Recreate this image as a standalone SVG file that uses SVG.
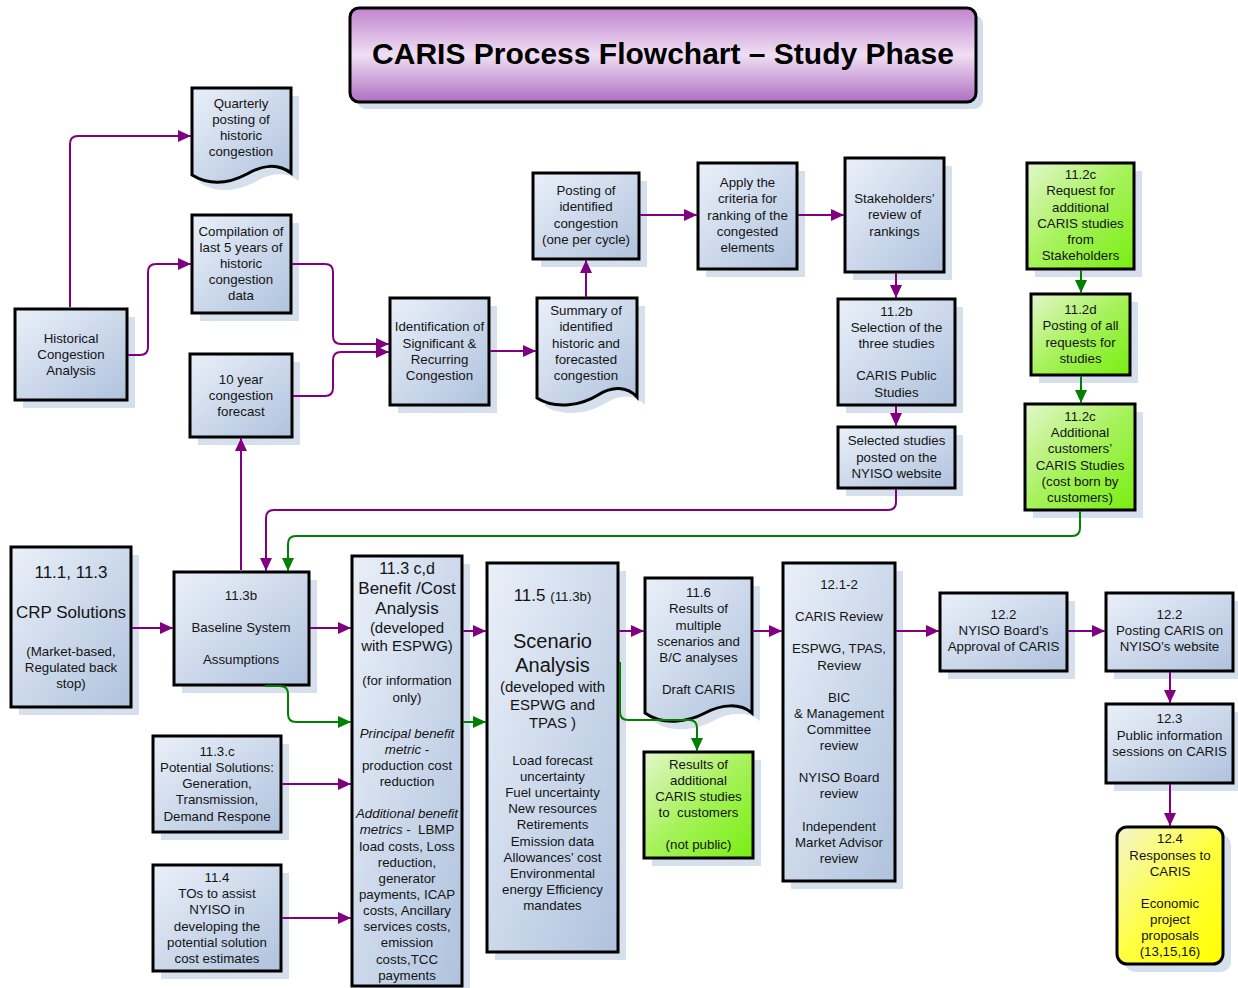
<svg xmlns="http://www.w3.org/2000/svg" width="1238" height="988" viewBox="0 0 1238 988">
<defs>
<linearGradient id="gb" x1="0" y1="0" x2="1" y2="1">
<stop offset="0" stop-color="#eaf0f9"/>
<stop offset="1" stop-color="#afc2dd"/>
</linearGradient>
<linearGradient id="gg" x1="0" y1="0" x2="1" y2="1">
<stop offset="0" stop-color="#e4f6cc"/>
<stop offset="0.5" stop-color="#a6f25a"/>
<stop offset="1" stop-color="#78ee10"/>
</linearGradient>
<linearGradient id="gy" x1="0" y1="0" x2="1" y2="1">
<stop offset="0" stop-color="#f4f4cc"/>
<stop offset="0.5" stop-color="#ffff40"/>
<stop offset="1" stop-color="#ffff00"/>
</linearGradient>
<linearGradient id="gt" x1="0" y1="0" x2="0" y2="1">
<stop offset="0" stop-color="#c283cf"/>
<stop offset="0.5" stop-color="#efdff3"/>
<stop offset="1" stop-color="#b06ec2"/>
</linearGradient>
<marker id="ap" markerUnits="userSpaceOnUse" markerWidth="13" markerHeight="12" refX="13" refY="6" orient="auto" viewBox="0 0 13 12">
<path d="M0,0 L13,6 L0,12 z" fill="#800080"/>
</marker>
<marker id="ag" markerUnits="userSpaceOnUse" markerWidth="13" markerHeight="12" refX="13" refY="6" orient="auto" viewBox="0 0 13 12">
<path d="M0,0 L13,6 L0,12 z" fill="#008000"/>
</marker>
</defs>
<style>
.sh{fill:#d6dfec}
.n{fill:url(#gb);stroke:#000;stroke-width:3}
.gr{fill:url(#gg);stroke:#000;stroke-width:3}
.ye{fill:url(#gy);stroke:#000;stroke-width:3}
text{font-family:"Liberation Sans",Arial,sans-serif;font-size:13.3px;fill:#141414;text-anchor:middle}
.c{fill:none;stroke:#800080;stroke-width:2;marker-end:url(#ap)}
.g{fill:none;stroke:#008000;stroke-width:2;marker-end:url(#ag)}
.i{font-style:italic}
.b16{font-size:16px}
.b17{font-size:17px}
.b15{font-size:15px}
.b20{font-size:20px}
</style>
<rect width="1238" height="988" fill="#fff"/>

<g id="title">
<rect x="357" y="15" width="626" height="94" rx="9" fill="#d3dcea"/>
<rect x="350" y="8" width="626" height="94" rx="9" fill="url(#gt)" stroke="#000" stroke-width="3"/>
<text x="663" y="64" style="font-size:30px;font-weight:bold;fill:#000">CARIS Process Flowchart – Study Phase</text>
</g>

<g id="n-quarterly">
<path class="sh" transform="translate(8,8)" d="M192,88 H291 V173 C278,163 262,165 247,174 C230,183 210,186 192,175 Z"/>
<path class="n" d="M192,88 H291 V173 C278,163 262,165 247,174 C230,183 210,186 192,175 Z"/>
<text x="241" y="108">Quarterly</text>
<text x="241" y="124">posting of</text>
<text x="241" y="140">historic</text>
<text x="241" y="156">congestion</text>
</g>

<g id="n-compilation">
<rect class="sh" x="200" y="223" width="99" height="98"/>
<rect class="n" x="192" y="215" width="99" height="98"/>
<text x="241" y="236">Compilation of</text>
<text x="241" y="252">last 5 years of</text>
<text x="241" y="268">historic</text>
<text x="241" y="284">congestion</text>
<text x="241" y="300">data</text>
</g>

<g id="n-historical">
<rect class="sh" x="23" y="317" width="112" height="91"/>
<rect class="n" x="15" y="309" width="112" height="91"/>
<text x="71" y="343">Historical</text>
<text x="71" y="359">Congestion</text>
<text x="71" y="375">Analysis</text>
</g>

<g id="n-forecast">
<rect class="sh" x="198" y="362" width="102" height="83"/>
<rect class="n" x="190" y="354" width="102" height="83"/>
<text x="241" y="384">10 year</text>
<text x="241" y="400">congestion</text>
<text x="241" y="416">forecast</text>
</g>

<g id="n-identification">
<rect class="sh" x="398" y="306" width="99" height="107"/>
<rect class="n" x="390" y="298" width="99" height="107"/>
<text x="439.5" y="331">Identification of</text>
<text x="439.5" y="348">Significant &amp;</text>
<text x="439.5" y="364">Recurring</text>
<text x="439.5" y="380">Congestion</text>
</g>

<g id="n-summary">
<path class="sh" transform="translate(8,8)" d="M537,298 H637 V397 C627,386 612,386 598,395 C582,405 556,410 537,398 Z"/>
<path class="n" d="M537,298 H637 V397 C627,386 612,386 598,395 C582,405 556,410 537,398 Z"/>
<text x="586" y="315">Summary of</text>
<text x="586" y="331">identified</text>
<text x="586" y="348">historic and</text>
<text x="586" y="364">forecasted</text>
<text x="586" y="380">congestion</text>
</g>

<g id="n-posting">
<rect class="sh" x="541" y="181" width="106" height="86"/>
<rect class="n" x="533" y="173" width="106" height="86"/>
<text x="586" y="195">Posting of</text>
<text x="586" y="211">identified</text>
<text x="586" y="228">congestion</text>
<text x="586" y="244">(one per cycle)</text>
</g>

<g id="n-apply">
<rect class="sh" x="706" y="171" width="99" height="106"/>
<rect class="n" x="698" y="163" width="99" height="106"/>
<text x="747.5" y="187">Apply the</text>
<text x="747.5" y="203">criteria for</text>
<text x="747.5" y="220">ranking of the</text>
<text x="747.5" y="236">congested</text>
<text x="747.5" y="252">elements</text>
</g>

<g id="n-stakeholders">
<rect class="sh" x="853" y="166" width="99" height="114"/>
<rect class="n" x="845" y="158" width="99" height="114"/>
<text x="894.5" y="203">Stakeholders’</text>
<text x="894.5" y="219">review of</text>
<text x="894.5" y="236">rankings</text>
</g>

<g id="n-112b">
<rect class="sh" x="846" y="307" width="117" height="106"/>
<rect class="n" x="838" y="299" width="117" height="106"/>
<text x="896.5" y="316">11.2b</text>
<text x="896.5" y="332">Selection of the</text>
<text x="896.5" y="348">three studies</text>
<text x="896.5" y="380">CARIS Public</text>
<text x="896.5" y="397">Studies</text>
</g>

<g id="n-selected">
<rect class="sh" x="846" y="435" width="117" height="61"/>
<rect class="n" x="838" y="427" width="117" height="61"/>
<text x="896.5" y="445">Selected studies</text>
<text x="896.5" y="462">posted on the</text>
<text x="896.5" y="478">NYISO website</text>
</g>

<g id="n-112c-request">
<rect class="sh" x="1035" y="171" width="107" height="106"/>
<rect class="gr" x="1027" y="163" width="107" height="106"/>
<text x="1080.5" y="179">11.2c</text>
<text x="1080.5" y="195">Request for</text>
<text x="1080.5" y="212">additional</text>
<text x="1080.5" y="228">CARIS studies</text>
<text x="1080.5" y="244">from</text>
<text x="1080.5" y="260">Stakeholders</text>
</g>

<g id="n-112d">
<rect class="sh" x="1039" y="302" width="99" height="81"/>
<rect class="gr" x="1031" y="294" width="99" height="81"/>
<text x="1080.5" y="314">11.2d</text>
<text x="1080.5" y="330">Posting of all</text>
<text x="1080.5" y="347">requests for</text>
<text x="1080.5" y="363">studies</text>
</g>

<g id="n-112c-additional">
<rect class="sh" x="1033" y="412" width="110" height="106"/>
<rect class="gr" x="1025" y="404" width="110" height="106"/>
<text x="1080" y="421">11.2c</text>
<text x="1080" y="437">Additional</text>
<text x="1080" y="453">customers’</text>
<text x="1080" y="470">CARIS Studies</text>
<text x="1080" y="486">(cost born by</text>
<text x="1080" y="502">customers)</text>
</g>

<g id="n-crp">
<rect class="sh" x="19" y="555" width="120" height="160"/>
<rect class="n" x="11" y="547" width="120" height="160"/>
<text class="b17" x="71" y="578">11.1, 11.3</text>
<text class="b17" x="71" y="618">CRP Solutions</text>
<text x="71" y="656">(Market-based,</text>
<text x="71" y="672">Regulated back</text>
<text x="71" y="688">stop)</text>
</g>

<g id="n-113b">
<rect class="sh" x="182" y="580" width="135" height="113"/>
<rect class="n" x="174" y="572" width="135" height="113"/>
<text x="241" y="600">11.3b</text>
<text x="241" y="632">Baseline System</text>
<text x="241" y="664">Assumptions</text>
</g>

<g id="n-113cd">
<rect class="sh" x="360" y="564" width="110" height="432"/>
<rect class="n" x="352" y="556" width="110" height="430"/>
<text class="b16" x="407" y="574">11.3 c,d</text>
<text class="b17" x="407" y="594">Benefit /Cost</text>
<text class="b17" x="407" y="614">Analysis</text>
<text class="b15" x="407" y="633">(developed</text>
<text class="b15" x="407" y="651">with ESPWG)</text>
<text x="407" y="685">(for information</text>
<text x="407" y="702">only)</text>
<text class="i" x="407" y="738">Principal benefit</text>
<text x="407" y="754"><tspan class="i">metric</tspan> -</text>
<text x="407" y="770">production cost</text>
<text x="407" y="786">reduction</text>
<text class="i" x="407" y="818">Additional benefit</text>
<text x="407" y="834" xml:space="preserve"><tspan class="i">metrics</tspan> -  LBMP</text>
<text x="407" y="851">load costs, Loss</text>
<text x="407" y="867">reduction,</text>
<text x="407" y="883">generator</text>
<text x="407" y="899">payments, ICAP</text>
<text x="407" y="915">costs, Ancillary</text>
<text x="407" y="931">services costs,</text>
<text x="407" y="947">emission</text>
<text x="407" y="964">costs,TCC</text>
<text x="407" y="980">payments</text>
</g>

<g id="n-115">
<rect class="sh" x="495" y="571" width="131" height="389"/>
<rect class="n" x="487" y="563" width="131" height="389"/>
<text x="552.5" y="601"><tspan class="b17">11.5 </tspan>(11.3b)</text>
<text class="b20" x="552.5" y="648">Scenario</text>
<text class="b20" x="552.5" y="672">Analysis</text>
<text class="b15" x="552.5" y="692">(developed with</text>
<text class="b15" x="552.5" y="710">ESPWG and</text>
<text class="b15" x="552.5" y="728">TPAS )</text>
<text x="552.5" y="765">Load forecast</text>
<text x="552.5" y="781">uncertainty</text>
<text x="552.5" y="797">Fuel uncertainty</text>
<text x="552.5" y="813">New resources</text>
<text x="552.5" y="829">Retirements</text>
<text x="552.5" y="846">Emission data</text>
<text x="552.5" y="862">Allowances’ cost</text>
<text x="552.5" y="878">Environmental</text>
<text x="552.5" y="894">energy Efficiency</text>
<text x="552.5" y="910">mandates</text>
</g>

<g id="n-116">
<path class="sh" transform="translate(8,8)" d="M645,578 H752 V713 C740,703 722,704 705,713 C688,722 663,726 645,713 Z"/>
<path class="n" d="M645,578 H752 V713 C740,703 722,704 705,713 C688,722 663,726 645,713 Z"/>
<text x="698.5" y="597">11.6</text>
<text x="698.5" y="613">Results of</text>
<text x="698.5" y="630">multiple</text>
<text x="698.5" y="646">scenarios and</text>
<text x="698.5" y="662">B/C analyses</text>
<text x="698.5" y="694">Draft CARIS</text>
</g>

<g id="n-results">
<rect class="sh" x="652" y="760" width="109" height="106"/>
<rect class="gr" x="644" y="752" width="109" height="106"/>
<text x="698.5" y="769">Results of</text>
<text x="698.5" y="785">additional</text>
<text x="698.5" y="801">CARIS studies</text>
<text x="698.5" y="817" xml:space="preserve">to  customers</text>
<text x="698.5" y="849">(not public)</text>
</g>

<g id="n-1212">
<rect class="sh" x="791" y="571" width="112" height="318"/>
<rect class="n" x="783" y="563" width="112" height="318"/>
<text x="839" y="589">12.1-2</text>
<text x="839" y="621">CARIS Review</text>
<text x="839" y="653">ESPWG, TPAS,</text>
<text x="839" y="670">Review</text>
<text x="839" y="702">BIC</text>
<text x="839" y="718">&amp; Management</text>
<text x="839" y="734">Committee</text>
<text x="839" y="750">review</text>
<text x="839" y="782">NYISO Board</text>
<text x="839" y="798">review</text>
<text x="839" y="831">Independent</text>
<text x="839" y="847">Market Advisor</text>
<text x="839" y="863">review</text>
</g>

<g id="n-122-approval">
<rect class="sh" x="948" y="601" width="127" height="78"/>
<rect class="n" x="940" y="593" width="127" height="78"/>
<text x="1003.5" y="619">12.2</text>
<text x="1003.5" y="635">NYISO Board’s</text>
<text x="1003.5" y="651">Approval of CARIS</text>
</g>

<g id="n-122-posting">
<rect class="sh" x="1114" y="601" width="127" height="78"/>
<rect class="n" x="1106" y="593" width="127" height="78"/>
<text x="1169.5" y="619">12.2</text>
<text x="1169.5" y="635">Posting CARIS on</text>
<text x="1169.5" y="651">NYISO’s website</text>
</g>

<g id="n-123">
<rect class="sh" x="1114" y="712" width="127" height="79"/>
<rect class="n" x="1106" y="704" width="127" height="79"/>
<text x="1169.5" y="723">12.3</text>
<text x="1169.5" y="740">Public information</text>
<text x="1169.5" y="756">sessions on CARIS</text>
</g>

<g id="n-124">
<rect class="sh" x="1125" y="835" width="106" height="137" rx="10"/>
<rect class="ye" x="1117" y="827" width="106" height="137" rx="10"/>
<text x="1170" y="843">12.4</text>
<text x="1170" y="860">Responses to</text>
<text x="1170" y="876">CARIS</text>
<text x="1170" y="908">Economic</text>
<text x="1170" y="924">project</text>
<text x="1170" y="940">proposals</text>
<text x="1170" y="956">(13,15,16)</text>
</g>

<g id="n-113c">
<rect class="sh" x="161" y="744" width="128" height="96"/>
<rect class="n" x="153" y="736" width="128" height="96"/>
<text x="217" y="756">11.3.c</text>
<text x="217" y="772">Potential Solutions:</text>
<text x="217" y="788">Generation,</text>
<text x="217" y="804">Transmission,</text>
<text x="217" y="821">Demand Respone</text>
</g>

<g id="n-114">
<rect class="sh" x="161" y="873" width="128" height="106"/>
<rect class="n" x="153" y="865" width="128" height="106"/>
<text x="217" y="882">11.4</text>
<text x="217" y="898">TOs to assist</text>
<text x="217" y="914">NYISO in</text>
<text x="217" y="931">developing the</text>
<text x="217" y="947">potential solution</text>
<text x="217" y="963">cost estimates</text>
</g>

<g id="connectors">
<path class="c" d="M70,307 V144 Q70,136 78,136 H191"/>
<path class="c" d="M128,355 H140 Q148,355 148,347 V272 Q148,264 156,264 H191"/>
<path class="c" d="M292,264 H325 Q333,264 333,272 V336 Q333,344 341,344 H389"/>
<path class="c" d="M293,396 H325 Q333,396 333,388 V360 Q333,352 341,352 H389"/>
<path class="c" d="M241,570 V438"/>
<path class="c" d="M490,351 H536"/>
<path class="c" d="M586,297 V260"/>
<path class="c" d="M640,215 H697"/>
<path class="c" d="M798,215 H844"/>
<path class="c" d="M896,273 V298"/>
<path class="c" d="M896,406 V426"/>
<path class="c" d="M896,489 V502 Q896,510 888,510 H274 Q266,510 266,518 V571"/>
<path class="g" d="M1080,511 V528 Q1080,536 1072,536 H296 Q288,536 288,544 V571"/>
<path class="g" d="M1081,270 V293"/>
<path class="g" d="M1081,376 V403"/>
<path class="c" d="M132,628 H173"/>
<path class="c" d="M310,628 H351"/>
<path class="g" d="M265,686 H280 Q288,686 288,694 V714 Q288,722 296,722 H351"/>
<path class="c" d="M282,784 H351"/>
<path class="c" d="M282,918 H351"/>
<path class="c" d="M463,631 H486"/>
<path class="g" d="M463,722 H486"/>
<path class="c" d="M619,631 H644"/>
<path class="g" d="M620,662 V712 Q620,720 628,720 H689 Q697,720 697,728 V751"/>
<path class="c" d="M753,631 H782"/>
<path class="c" d="M896,631 H939"/>
<path class="c" d="M1068,631 H1105"/>
<path class="c" d="M1170,672 V703"/>
<path class="c" d="M1170,784 V826"/>
</g>
</svg>
